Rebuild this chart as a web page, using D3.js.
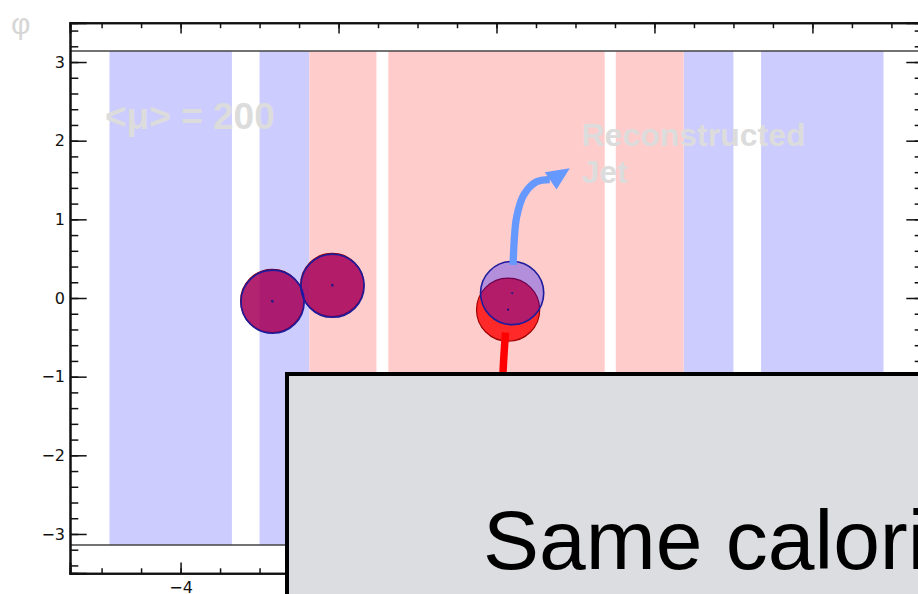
<!DOCTYPE html>
<html lang="en">
<head>
<meta charset="UTF-8">
<title>Jet display eta-phi</title>
<script src="https://d3js.org/d3.v7.min.js"></script>
<style>
    body { margin: 0; background: #fff; }
    svg { display: block; font-family: "Liberation Sans", Arial, sans-serif; }
</style>
</head>
<body>
<div id="chart"></div>
<script>
    // calorimeter regions in eta (blue = forward, red = central)
    const blueBands = [[-4.9, -3.35], [-3.0, -2.37], [2.37, 3.0], [3.35, 4.9]];
    const redBands = [[-2.37, -1.52], [-1.37, 1.37], [1.51, 2.37]];

    // jets (eta, phi), cone radius R
    const truthJets = [[-2.84, -0.037], [-2.08, 0.166], [0.147, -0.148]];
    const recoJets = [[-2.835, -0.047], [-2.076, 0.156], [0.198, 0.063]];
    const jetR = 0.4;

    // arrows
    const blueArrow = [[0.21, 0.42], [0.225, 0.74], [0.255, 1.03], [0.345, 1.31], [0.5, 1.475], [0.675, 1.505]];
    const blueHead = [[0.928, 1.65], [0.611, 1.6], [0.76, 1.38]];
    const redArrow = [[0.114, -0.44], [0.09, -0.8], [0.07, -1.2]];

    const xTicks = [-4, -2, 0, 2, 4];
    const yTicks = [-3, -2, -1, 0, 1, 2, 3];

    const W = 918, H = 594;
    const boxX = 287, boxY = 374;
    const svg = d3.select("#chart").append("svg")
        .attr("width", W).attr("height", H);

    const x = d3.scaleLinear().domain([-5.4, 5.4]).range([70, 923]);
    const y = d3.scaleLinear().domain([-3.5, 3.5]).range([573.3, 22.7]);

    // bands
    svg.selectAll("rect.blue").data(blueBands).enter().append("rect")
        .attr("x", d => x(d[0])).attr("width", d => x(d[1]) - x(d[0]))
        .attr("y", y(Math.PI)).attr("height", y(-Math.PI) - y(Math.PI))
        .attr("fill", "#ccccff");
    svg.selectAll("rect.red").data(redBands).enter().append("rect")
        .attr("x", d => x(d[0])).attr("width", d => x(d[1]) - x(d[0]))
        .attr("y", y(Math.PI)).attr("height", y(-Math.PI) - y(Math.PI))
        .attr("fill", "#ffcccc");

    // phi = +-pi lines
    [Math.PI, -Math.PI].forEach(p => {
        svg.append("line")
            .attr("x1", x(-5.4)).attr("x2", x(5.4))
            .attr("y1", y(p)).attr("y2", y(p))
            .attr("stroke", "#444").attr("stroke-width", 1.5);
    });

    // axes
    function styleAxis(g) {
        g.selectAll("path.domain").attr("stroke", "#111").attr("stroke-width", 2);
        g.selectAll(".tick line").attr("stroke", "#111").attr("stroke-width", 1.5);
        g.selectAll(".tick text").attr("fill", "#111").style("font-size", "16px")
            .style("font-family", "'DejaVu Sans', sans-serif");
    }
    const xMinor = d3.range(-5, 5.01, 0.5);
    const yMinor = d3.range(-3.4, 3.41, 0.2).map(v => Math.round(v * 10) / 10);
    const minus = d => d3.format("d")(d).replace("-", "\u2212");
    // labels under the overlay box are not shown
    const xLabel = d => (x(d) < boxX - 10 ? minus(d) : "");

    svg.append("g").attr("transform", `translate(0,${y(-3.5)})`)
        .call(d3.axisBottom(x).tickValues(xMinor).tickSize(-5).tickFormat("")).call(styleAxis);
    svg.append("g").attr("transform", `translate(0,${y(-3.5)})`)
        .call(d3.axisBottom(x).tickValues(xTicks).tickSize(-10.7).tickPadding(8).tickFormat(xLabel)).call(styleAxis);
    svg.append("g").attr("transform", `translate(0,${y(3.5)})`)
        .call(d3.axisTop(x).tickValues(xMinor).tickSize(-5.5).tickFormat("")).call(styleAxis);
    svg.append("g").attr("transform", `translate(0,${y(3.5)})`)
        .call(d3.axisTop(x).tickValues(xTicks).tickSize(-10.7).tickFormat("")).call(styleAxis);

    svg.append("g").attr("transform", `translate(${x(-5.4)},0)`)
        .call(d3.axisLeft(y).tickValues(yMinor).tickSize(-8.3).tickFormat("")).call(styleAxis);
    svg.append("g").attr("transform", `translate(${x(-5.4)},0)`)
        .call(d3.axisLeft(y).tickValues(yTicks).tickSize(-16.7).tickPadding(5).tickFormat(minus)).call(styleAxis);
    svg.append("g").attr("transform", `translate(${x(5.4)},0)`)
        .call(d3.axisRight(y).tickValues(yMinor).tickSize(-8.3).tickFormat("")).call(styleAxis);
    svg.append("g").attr("transform", `translate(${x(5.4)},0)`)
        .call(d3.axisRight(y).tickValues(yTicks).tickSize(-16.7).tickFormat("")).call(styleAxis);

    // phi label
    svg.append("text").attr("x", 11).attr("y", 34)
        .attr("fill", "#d6d6d6").style("font-size", "30px").text("\u03c6");

    // jets
    const rPx = x(jetR) - x(0);
    svg.selectAll("circle.truth").data(truthJets).enter().append("circle")
        .attr("cx", d => x(d[0])).attr("cy", d => y(d[1])).attr("r", rPx)
        .attr("fill", "rgba(255,0,0,0.8)").attr("stroke", "#a00000").attr("stroke-width", 1.2);
    svg.selectAll("circle.tdot").data(truthJets).enter().append("circle")
        .attr("cx", d => x(d[0])).attr("cy", d => y(d[1])).attr("r", 1.1).attr("fill", "#301050");
    svg.selectAll("circle.reco").data(recoJets).enter().append("circle")
        .attr("cx", d => x(d[0])).attr("cy", d => y(d[1])).attr("r", rPx)
        .attr("fill", "rgba(0,0,255,0.3)").attr("stroke", "#1c1c9c").attr("stroke-width", 1.6);
    svg.selectAll("circle.rdot").data(recoJets).enter().append("circle")
        .attr("cx", d => x(d[0])).attr("cy", d => y(d[1])).attr("r", 1.1).attr("fill", "#20208a");

    // arrows
    const line = d3.line().x(d => x(d[0])).y(d => y(d[1])).curve(d3.curveCatmullRom);
    svg.append("path").attr("d", line(blueArrow))
        .attr("fill", "none").attr("stroke", "#6699ff").attr("stroke-width", 7.3);
    svg.append("path").attr("d", d3.line().x(d => x(d[0])).y(d => y(d[1]))(blueHead) + "Z")
        .attr("fill", "#6699ff");
    svg.append("path").attr("d", line(redArrow))
        .attr("fill", "none").attr("stroke", "#ff0000").attr("stroke-width", 7.5);

    // labels
    svg.append("text").attr("x", 105).attr("y", 128.5)
        .attr("fill", "#dcdcdc").style("font-size", "37px").style("font-weight", "bold")
        .text("<\u03bc> = 200");
    const reco = svg.append("text").attr("fill", "#dcdcdc")
        .style("font-size", "32px").style("font-weight", "bold");
    reco.append("tspan").attr("x", 581.5).attr("y", 145.5).text("Reconstructed");
    reco.append("tspan").attr("x", 581.5).attr("y", 182.5).text("Jet");

    // overlay box
    svg.append("rect").attr("x", boxX).attr("y", boxY).attr("width", 700).attr("height", 300)
        .attr("fill", "#dcdde0").attr("stroke", "#000").attr("stroke-width", 4);
    svg.append("text").attr("x", 483).attr("y", 569)
        .attr("fill", "#000").style("font-size", "84px").text("Same calori");
</script>
</body>
</html>
